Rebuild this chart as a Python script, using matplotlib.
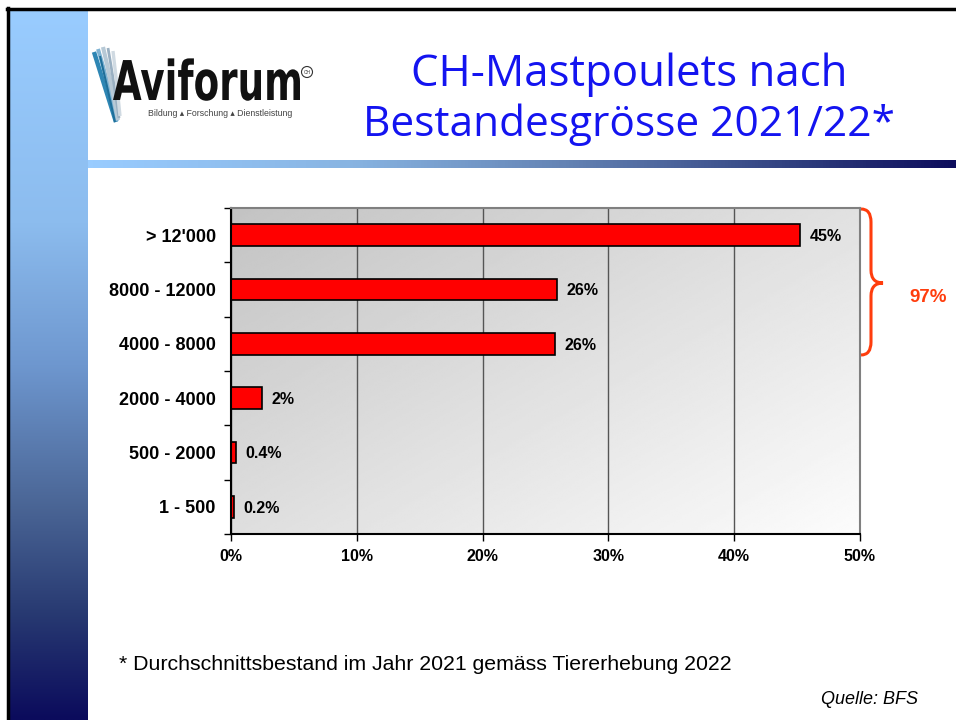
import numpy as np
import matplotlib.pyplot as plt
from matplotlib.colors import LinearSegmentedColormap
from matplotlib.path import Path
from matplotlib.patches import PathPatch, Circle
from matplotlib.textpath import TextPath
from matplotlib.font_manager import FontProperties
from matplotlib.transforms import Affine2D

plt.rcParams['font.family'] = ['Liberation Sans', 'DejaVu Sans']

# herd size classes (top to bottom) and share of broilers in %
categories = ["> 12'000", "8000 - 12000", "4000 - 8000", "2000 - 4000", "500 - 2000", "1 - 500"]
shares = [45.2, 25.9, 25.75, 2.45, 0.4, 0.2]
x_ticks = [0, 10, 20, 30, 40, 50]
brace_label = "97%"
title_lines = ["CH-Mastpoulets nach", "Bestandesgrösse 2021/22*"]
footnote = "* Durchschnittsbestand im Jahr 2021 gemäss Tiererhebung 2022"
source = "Quelle: BFS"

W, H = 956, 720
fig = plt.figure(figsize=(W / 100, H / 100), dpi=100)

# full-page layer in pixel units (y pointing down) for the slide decoration
bg = fig.add_axes([0, 0, 1, 1])
bg.set_axis_off()


def gradient(ax, x0, x1, y0, y1, stops, vertical=True):
    cmap = LinearSegmentedColormap.from_list('grad', stops)
    t = np.linspace(0, 1, 256)
    arr = t[:, None] if vertical else t[None, :]
    ax.imshow(arr, cmap=cmap, extent=(x0, x1, y1, y0), origin='upper',
              aspect='auto', interpolation='bilinear', zorder=0)


side_stops = [(0.0, '#99CCFF'), (0.3, '#8CBCEE'), (0.5, '#6E97CF'),
              (0.7, '#4A6595'), (0.85, '#283A72'), (1.0, '#0B0B5C')]
gradient(bg, 10, 88, 10, 720, side_stops)
bar_stops = [(0.0, '#99CCFF'), (0.3, '#88B4E2'), (0.55, '#6483B4'),
             (0.8, '#334482'), (1.0, '#0D0D5C')]
gradient(bg, 88, 956, 160, 168, bar_stops, vertical=False)

# slide frame
bg.plot([8.5, 8.5], [8, 720], color='black', lw=2.5, zorder=3)
bg.plot([7, 956], [9, 9], color='black', lw=2.5, zorder=3)

# logo: swoosh strokes
swoosh = [((94, 52), (104, 84), (116, 122), '#2E86B4', 3.2),
          ((98, 49), (108, 82), (117, 121), '#7FB3D3', 2.8),
          ((103, 47), (111, 80), (118, 120), '#B7C9D6', 3.0),
          ((108, 48), (114, 82), (119, 118), '#9AB0C2', 2.0),
          ((113, 51), (117, 84), (120, 116), '#D0DAE2', 2.4),
          ((100, 56), (108, 90), (115, 122), '#1F6F9A', 1.5)]
for p0, p1, p2, col, lw in swoosh:
    path = Path([p0, p1, p2], [Path.MOVETO, Path.CURVE3, Path.CURVE3])
    bg.add_patch(PathPatch(path, fc='none', ec=col, lw=lw, zorder=2))

fp = FontProperties(family='DejaVu Sans', weight='bold')
tp = TextPath((0, 0), 'Aviforum', size=1, prop=fp)
ext = tp.get_extents()
sx = 187 / ext.width
sy = 40 / 0.73
logo_tf = Affine2D().translate(-ext.x0, 0).scale(sx, -sy).translate(113, 100)
bg.add_patch(PathPatch(logo_tf.transform_path(tp), fc='#111111', ec='none', zorder=3))
bg.add_patch(Circle((307, 72), 5.5, fill=False, ec='#333333', lw=0.8, zorder=3))
bg.text(307, 72.5, 'CH', fontsize=3.5, ha='center', va='center', color='#333333')
bg.text(148, 114, 'Bildung \u25b4 Forschung \u25b4 Dienstleistung', fontsize=6.3,
        color='#444444', va='center', family=['Liberation Sans', 'DejaVu Sans'])

# title
bg.text(629, 75, title_lines[0], fontsize=31.5, color='#1414F0', ha='center',
        va='center', family='Open Sans')
bg.text(629, 125, title_lines[1], fontsize=30.5, color='#1414F0', ha='center',
        va='center', family='Open Sans')

# brace grouping the three largest classes
bx, tip = 871, 883
verts = [(861, 209), (bx, 209), (bx, 222), (bx, 270), (bx, 283), (tip, 283),
         (bx, 283), (bx, 296), (bx, 342), (bx, 355), (861, 355)]
codes = [Path.MOVETO, Path.CURVE3, Path.CURVE3, Path.LINETO, Path.CURVE3, Path.CURVE3,
         Path.CURVE3, Path.CURVE3, Path.LINETO, Path.CURVE3, Path.CURVE3]
bg.add_patch(PathPatch(Path(verts, codes), fc='none', ec='#FF3D0D', lw=2.2, zorder=3))
bg.text(928, 297, brace_label, color='#FF3D0D', fontsize=13.5, fontweight='bold',
        ha='center', va='center')

bg.text(119, 665, footnote, fontsize=15.3, va='center')
bg.text(918, 699, source, fontsize=13, style='italic', ha='right', va='center')

bg.set_xlim(0, W)
bg.set_ylim(H, 0)

# bar chart
ax = fig.add_axes([231 / W, 1 - 534 / H, (860 - 231) / W, (534 - 208) / H])
ax.set_facecolor('none')

xx, yy = np.meshgrid(np.linspace(0, 1, 200), np.linspace(0, 1, 200))
shade = (195 + 30 * xx + 27 * yy) / 255
ax.imshow(shade, cmap='gray', vmin=0, vmax=1, extent=(0, 1, 0, 1), origin='upper',
          transform=ax.transAxes, aspect='auto', interpolation='bilinear', zorder=0)

ypos = np.arange(len(categories))
ax.barh(ypos, shares, height=0.4, color='#FF0000', edgecolor='black', lw=1.2, zorder=2)
for y, v in zip(ypos, shares):
    label = f'{v:.0f}%' if v >= 1 else f'{v:.1f}%'
    ax.annotate(label, (v, y), xytext=(7, -1), textcoords='offset points',
                va='center', fontsize=11.5, fontweight='bold', zorder=3)

ax.set_xlim(0, 50)
ax.set_ylim(5.5, -0.5)
ax.set_axisbelow(True)
ax.xaxis.grid(True, color='#555555', lw=1)

ax.set_yticks(ypos, categories, fontsize=13, fontweight='bold')
ax.set_yticks(np.arange(-0.5, len(categories), 1), minor=True)
ax.tick_params(axis='y', which='major', length=0, pad=11)
ax.tick_params(axis='y', which='minor', length=5, width=1, color='black')
ax.set_xticks(x_ticks, [f'{t}%' for t in x_ticks], fontsize=11.5, fontweight='bold')
ax.tick_params(axis='x', length=5, width=1, pad=6)

for side in ['left', 'bottom']:
    ax.spines[side].set_color('black')
    ax.spines[side].set_linewidth(1.5)
for side in ['top', 'right']:
    ax.spines[side].set_color('#808080')
    ax.spines[side].set_linewidth(1.5)

fig.savefig('out.png', dpi=100)
